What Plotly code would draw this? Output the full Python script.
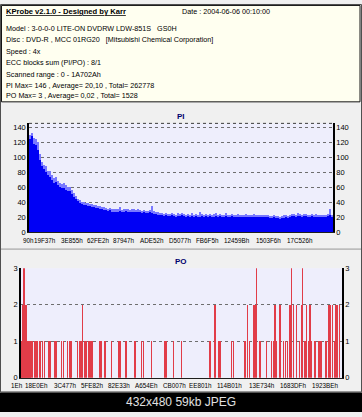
import plotly.graph_objects as go

W, H = 362, 417
FONT = "Liberation Sans, Arial, sans-serif"

scan_end = 0x1A702A

# PI error counts per sample (dark = sampled value, light = peak)
pi_values = [
    124, 128, 118, 116, 110, 96, 88, 84, 80, 76,
    74, 70, 66, 67, 62, 60, 58, 59, 56, 55,
    54, 51, 47, 44, 41, 38, 37, 36, 36, 34,
    34, 33, 33, 32, 32, 31, 30, 29, 29, 28,
    29, 27, 27, 26, 27, 28, 26, 27, 28, 27,
    26, 27, 27, 26, 27, 26, 25, 26, 25, 25,
    26, 25, 24, 24, 23, 22, 22, 21, 22, 21,
    21, 22, 21, 20, 21, 21, 22, 21, 20, 21,
    20, 21, 20, 21, 20, 20, 21, 20, 21, 20,
    21, 20, 20, 21, 20, 21, 20, 20, 21, 20,
    20, 21, 20, 19, 20, 20, 19, 20, 20, 19,
    20, 19, 20, 20, 19, 20, 19, 19, 20, 19,
    18, 18, 19, 18, 18, 17, 18, 18, 19, 18,
    20, 21, 21, 20, 21, 21, 20, 21, 21, 20,
    20, 21, 20, 20, 19, 20, 20, 19, 20, 21,
    22, 20,
]
pi_peaks = [
    130, 132, 126, 124, 120, 104, 94, 90, 88, 82,
    82, 76, 72, 74, 68, 66, 64, 66, 62, 60,
    60, 56, 52, 48, 44, 42, 40, 40, 39, 38,
    37, 37, 36, 36, 35, 34, 33, 33, 32, 31,
    32, 30, 31, 30, 31, 33, 29, 30, 31, 31,
    29, 30, 31, 29, 30, 29, 28, 29, 28, 28,
    29, 35, 28, 27, 26, 25, 25, 24, 25, 24,
    24, 25, 24, 23, 25, 24, 25, 24, 23, 24,
    23, 25, 23, 24, 23, 26, 24, 23, 24, 23,
    24, 23, 24, 25, 23, 24, 23, 23, 25, 23,
    23, 24, 23, 22, 24, 23, 22, 23, 24, 22,
    23, 22, 24, 23, 22, 23, 22, 22, 23, 22,
    21, 21, 22, 21, 21, 20, 21, 22, 22, 21,
    23, 24, 24, 23, 25, 24, 23, 24, 24, 23,
    23, 24, 23, 24, 22, 23, 23, 22, 23, 24,
    30, 23,
]
pi_tick_labels = ["90h", "19F37h", "3E855h", "62FE2h", "87947h", "ADE52h",
                  "D5077h", "FB6F5h", "12459Bh", "1503F6h", "17C526h"]

# PO error events (LBA position, count)
po_lba = [
    0, 4300, 8600, 12900, 17200, 21500, 25800, 30100, 34400, 38700, 43000,
    47300, 51600, 55900,
    63152, 71788, 80964, 90140, 98776, 106333, 117128, 125764, 147354, 156530,
    179740, 188916, 219682, 228318, 252068, 264482, 269880, 306044, 314680,
    323856, 333032, 345446, 354622, 363258, 372434, 381610, 387008, 422632,
    431808, 453398, 489562, 525186, 534362, 566748, 615326, 651490, 660126,
    705466, 777254, 786430, 822054, 867394, 1020146, 1047134, 1064946,
    1074122, 1137274, 1145910, 1209062, 1221476, 1232272, 1257641, 1264657,
    1272214, 1290026, 1326190, 1353178, 1361814, 1370990, 1380166, 1397978,
    1415790, 1428744, 1437380, 1451954, 1461130, 1469766, 1488115, 1502150,
    1515106, 1520503, 1532918, 1542094, 1550730, 1559906, 1569082, 1586894,
    1604706, 1613882, 1623058, 1646268, 1658683, 1667858, 1682432, 1691068,
    1700244, 1709420, 1718056,
]
po_values = [
    1, 1, 2, 2, 3, 2, 2, 1, 1, 1, 1,
    1, 1, 1,
    1, 1, 1, 1, 1, 1, 1, 1, 1, 1,
    1, 1, 1, 1, 1, 1, 1, 1, 1,
    1, 2, 1, 1, 1, 1, 1, 1, 1,
    1, 1, 1, 1, 1, 1, 1, 1, 1,
    1, 1, 1, 1, 1, 1, 2, 1,
    1, 1, 1, 1, 2, 1, 2, 2,
    3, 1, 1, 1, 1, 2, 1, 2,
    1, 1, 1, 2, 3, 2, 2, 1,
    2, 3, 1, 2, 1, 2, 1, 1,
    1, 1, 1, 1, 2, 2, 2, 1,
    2, 2, 2,
]
po_tick_labels = ["1Eh", "18E0Eh", "3C477h", "5FE82h", "82E33h", "A654Eh",
                  "CB007h", "EE801h", "114B01h", "13E734h", "1683DFh", "1923BEh"]

pi_y_ticks = [0, 20, 40, 60, 80, 100, 120, 140]
po_y_ticks = [0, 1, 2, 3]

info_title = "KProbe v2.1.0 - Designed by Karr"
info_date = "Date : 2004-06-06 00:10:00"
info_lines = [
    "Model : 3-0-0-0 LITE-ON DVDRW LDW-851S   GS0H",
    "Disc : DVD-R , MCC 01RG20   [Mitsubishi Chemical Corporation]",
    "Speed : 4x",
    "ECC blocks sum (PI/PO) : 8/1",
    "Scanned range : 0 - 1A702Ah",
    "PI Max= 146 , Average= 20,10 , Total= 262778",
    "PO Max= 3 , Average= 0,02 , Total= 1528",
]
footer = "432x480 59kb JPEG"


def px(x):
    return x / W


def py(y):
    return 1 - y / H


step = scan_end / len(pi_values)
pi_x = [(i + 0.5) * step for i in range(len(pi_values))]

fig = go.Figure()
fig.add_trace(go.Bar(x=pi_x, y=pi_peaks, width=step, xaxis="x", yaxis="y",
                     marker=dict(color="rgb(120,120,255)", line=dict(width=0)),
                     showlegend=False, hoverinfo="skip"))
fig.add_trace(go.Bar(x=pi_x, y=pi_values, width=step, xaxis="x", yaxis="y",
                     marker=dict(color="rgb(0,0,245)", line=dict(width=0)),
                     showlegend=False, hoverinfo="skip"))
fig.add_trace(go.Scatter(x=[None], y=[None], xaxis="x", yaxis="y2",
                         showlegend=False, hoverinfo="skip"))
fig.add_trace(go.Bar(x=po_lba, y=po_values, width=3200, xaxis="x3", yaxis="y3",
                     marker=dict(color="rgb(225,60,72)", line=dict(width=0)),
                     showlegend=False, hoverinfo="skip"))
fig.add_trace(go.Scatter(x=[None], y=[None], xaxis="x3", yaxis="y4",
                         showlegend=False, hoverinfo="skip"))

yax_common = dict(showline=True, linecolor="black", linewidth=1.5,
                  showgrid=True, gridcolor="rgb(110,110,110)", griddash="dot",
                  gridwidth=1, zeroline=False, ticks="",
                  tickfont=dict(family=FONT, size=7.5, color="black"), fixedrange=True)
xax_common = dict(showline=True, linecolor="rgb(30,30,30)", linewidth=1,
                  showgrid=False, zeroline=False, ticks="", showticklabels=False,
                  fixedrange=True)

pi_dom_y = [py(233), py(122)]
po_dom_y = [py(382), py(270)]

fig.update_layout(
    width=W, height=H, margin=dict(l=0, r=0, t=0, b=0),
    paper_bgcolor="rgb(240,240,240)", plot_bgcolor="rgb(238,238,252)",
    barmode="overlay", bargap=0, showlegend=False,
    xaxis=dict(domain=[px(29), px(333)], range=[0, scan_end], anchor="y",
               **xax_common),
    yaxis=dict(domain=pi_dom_y, range=[0, 146], anchor="x", tickvals=pi_y_ticks,
               **yax_common),
    yaxis2=dict(overlaying="y", side="right", anchor="x", range=[0, 146],
                tickvals=pi_y_ticks, **{**yax_common, "showgrid": False}),
    xaxis3=dict(domain=[px(21), px(342)], range=[0, scan_end], anchor="y3",
                **xax_common),
    yaxis3=dict(domain=po_dom_y, range=[0, 3], anchor="x3", tickvals=po_y_ticks,
                **yax_common),
    yaxis4=dict(overlaying="y3", side="right", anchor="x3", range=[0, 3],
                tickvals=po_y_ticks, **{**yax_common, "showgrid": False}),
)

shapes = [
    dict(type="rect", xref="paper", yref="paper", x0=px(0.5), x1=px(361.5),
         y0=py(396.5), y1=py(0.5), line=dict(color="rgb(80,80,80)", width=1),
         fillcolor="rgba(0,0,0,0)", layer="below"),
    dict(type="rect", xref="paper", yref="paper", x0=px(1.5), x1=px(360),
         y0=py(100), y1=py(1.5), line=dict(color="rgb(20,20,20)", width=1),
         fillcolor="rgb(255,255,240)", layer="below"),
    dict(type="line", xref="paper", yref="paper", x0=px(1), x1=px(361),
         y0=py(250.5), y1=py(250.5), line=dict(color="rgb(150,150,150)", width=1)),
    dict(type="line", xref="paper", yref="paper", x0=px(29), x1=px(333),
         y0=py(122), y1=py(122), line=dict(color="rgb(60,60,60)", width=1, dash="dot")),
    dict(type="rect", xref="paper", yref="paper", x0=0, x1=1,
         y0=0, y1=py(397), line=dict(width=0), fillcolor="black"),
]
fig.update_layout(shapes=shapes)

ann = []
ann.append(dict(text="<b><u>" + info_title + "</u></b>", x=px(4), y=py(7.5),
                font=dict(family=FONT, size=7.6, color="black")))
ann.append(dict(text=info_date, x=px(180), y=py(7.5),
                font=dict(family=FONT, size=7.2, color="black")))
line_y = [25, 36.5, 48.3, 60.3, 71.6, 82.8, 94]
for t, yy in zip(info_lines, line_y):
    ann.append(dict(text=t, x=px(4), y=py(yy),
                    font=dict(family=FONT, size=7.2, color="black")))
for a in ann:
    a.update(xref="paper", yref="paper", xanchor="left", yanchor="middle",
             showarrow=False)

# x tick labels, placed through the x axes at their LBA values
tick_font = dict(family=FONT, size=6.3, color="black")
for k, t in enumerate(pi_tick_labels):
    shift = -1 if k == 0 else (-3 if k == 1 else -2)
    ann.append(dict(text=t, x=int(t[:-1], 16), xref="x", y=py(241.5), yref="paper",
                    xanchor="center", yanchor="middle", xshift=shift, borderpad=0,
                    showarrow=False, font=tick_font))
for k, t in enumerate(po_tick_labels):
    shift = -4 if k == 0 else (-3 if k == 1 else -1)
    ann.append(dict(text=t, x=int(t[:-1], 16), xref="x3", y=py(389.5), yref="paper",
                    xanchor="center", yanchor="middle", xshift=shift, borderpad=0,
                    showarrow=False, font=tick_font))

ann.append(dict(text="<b>PI</b>", x=px(181), y=py(115), xref="paper", yref="paper",
                xanchor="center", yanchor="middle", showarrow=False,
                font=dict(family=FONT, size=8, color="rgb(0,0,110)")))
ann.append(dict(text="<b>PO</b>", x=px(181), y=py(263.5), xref="paper", yref="paper",
                xanchor="center", yanchor="middle", showarrow=False,
                font=dict(family=FONT, size=8, color="rgb(0,0,110)")))
ann.append(dict(text=footer, x=px(181), y=py(407), xref="paper", yref="paper",
                xanchor="center", yanchor="middle", showarrow=False,
                font=dict(family=FONT, size=12, color="rgb(225,225,225)")))
fig.update_layout(annotations=ann)

fig.write_html(
    "out.html",
    config={"displayModeBar": False},
    post_script=("document.body.style.margin='0';"
                 "document.body.style.overflow='hidden';"
                 "document.documentElement.style.overflow='hidden';"),
)
